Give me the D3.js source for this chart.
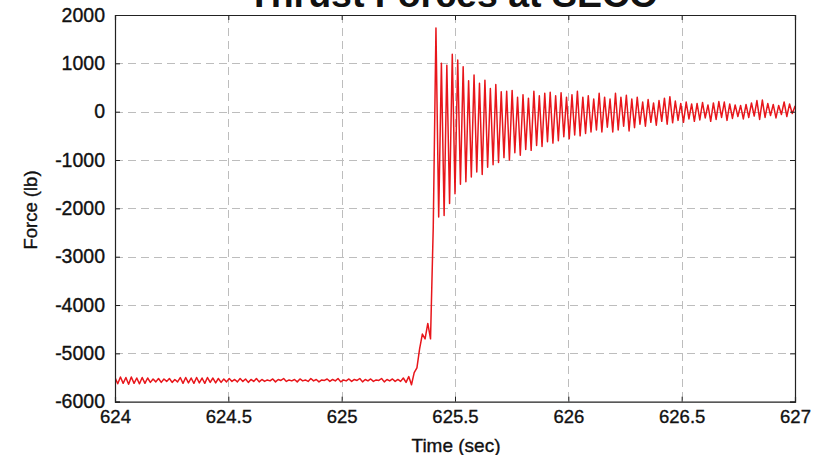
<!DOCTYPE html>
<html>
<head>
<meta charset="utf-8">
<script src="https://cdn.jsdelivr.net/npm/d3@7"></script>
<style>
  html, body { margin: 0; padding: 0; background: #fff; }
  svg { display: block; font-family: "Liberation Sans", Arial, sans-serif; }
</style>
</head>
<body>
<svg id="chart" width="827" height="455"></svg>
<script>
// Sampling grid of the load-cell record (seconds)
const sampleStart = 624.0;
const sampleStep = 0.012;

// Steady thrust before cutoff (lb)
const baselineForce = [
  -5500, -5630, -5490, -5620, -5500, -5640, -5490, -5620, -5510, -5630, -5500, -5620, -5510,
  -5600, -5530, -5590, -5520, -5600, -5530, -5580, -5520, -5600, -5540, -5590,
  -5500, -5620, -5500, -5610, -5510, -5620, -5500, -5610, -5510, -5620, -5500, -5600, -5510, -5610, -5520, -5600,
  -5530, -5590, -5520, -5580, -5540, -5590, -5520, -5580, -5530, -5600, -5540, -5580, -5520, -5590,
  -5540, -5580, -5550, -5570, -5530, -5590, -5540, -5560, -5520, -5580,
  -5550, -5570, -5540, -5590, -5530, -5570, -5550, -5580, -5520, -5570,
  -5540, -5590, -5550, -5560, -5530, -5580, -5540, -5570, -5520, -5590,
  -5550, -5570, -5530, -5580, -5540, -5560, -5520, -5590, -5540, -5570,
  -5530, -5580, -5550, -5560, -5520, -5590, -5540, -5570, -5530, -5580,
  -5540
];

// Thrust tail-off at cutoff (lb)
const riseForce = [-5580, -5510, -5600, -5480, -5650, -5400, -5300, -4900, -4600, -4700, -4380, -4700, -2400];

// Ring-down after cutoff: successive maxima and minima of each cycle (lb)
const peakForce = [
  1730, 1000, 960, 1190, 1070, 930, 640, 760, 590, 650,
  480, 560, 410, 420, 440, 300, 350, 280, 420, 330,
  380, 400, 330, 390, 300, 350, 420, 300, 330, 260,
  380, 300, 260, 380, 300, 340, 260, 300, 200, 250,
  180, 230, 280, 310, 220, 170, 200, 160, 170, 190,
  140, 180, 210, 200, 160, 140, 130, 150, 180, 230,
  240, 170, 150, 130, 200, 160, 110
];
const troughForce = [
  -2180, -2150, -1900, -1700, -1500, -1450, -1350, -1250, -1300, -1150,
  -1100, -1050, -950, -1000, -850, -900, -780, -800, -700, -720,
  -620, -650, -600, -520, -560, -480, -500, -450, -420, -380,
  -420, -320, -420, -380, -300, -400, -330, -260, -300, -220,
  -280, -200, -260, -230, -180, -220, -150, -200, -170, -130,
  -200, -160, -120, -180, -140, -100, -150, -120, -90, -160,
  -120, -80, -130, -60, -100, -40, -20
];

const xTicks = [624, 624.5, 625, 625.5, 626, 626.5, 627];
const yTicks = [-6000, -5000, -4000, -3000, -2000, -1000, 0, 1000, 2000];

// Assemble the sample sequence
const force = baselineForce.concat(riseForce);
peakForce.forEach((p, k) => { force.push(p, troughForce[k]); });
const samples = force.map((f, i) => ({ t: sampleStart + i * sampleStep, f }));

const svg = d3.select("#chart");
const m = { left: 115, right: 795, top: 15, bottom: 401.7 };

const x = d3.scaleLinear().domain([624, 627]).range([m.left, m.right]);
const y = d3.scaleLinear().domain([-6000, 2000]).range([m.bottom, m.top]);

// Dashed grid
const grid = svg.append("g").attr("stroke", "#bdbdbd").attr("stroke-width", 1).attr("stroke-dasharray", "8,5");
grid.selectAll("line.gx").data(xTicks.slice(1, -1)).join("line")
  .attr("x1", d => Math.round(x(d)) + 0.5).attr("x2", d => Math.round(x(d)) + 0.5)
  .attr("y1", m.top).attr("y2", m.bottom);
grid.selectAll("line.gy").data(yTicks.slice(1, -1)).join("line")
  .attr("y1", d => Math.round(y(d)) + 0.5).attr("y2", d => Math.round(y(d)) + 0.5)
  .attr("x1", m.left).attr("x2", m.right);

// Signal
svg.append("clipPath").attr("id", "plotClip").append("rect")
  .attr("x", m.left).attr("y", m.top).attr("width", m.right - m.left).attr("height", m.bottom - m.top);
svg.append("path")
  .datum(samples)
  .attr("clip-path", "url(#plotClip)")
  .attr("fill", "none")
  .attr("stroke", "#e8161b")
  .attr("stroke-width", 1.5)
  .attr("stroke-linejoin", "round")
  .attr("d", d3.line().x(d => x(d.t)).y(d => y(d.f)));

// Axes with inward ticks on all four sides
const tickLen = 5;
const axisBottom = svg.append("g").attr("transform", `translate(0,${m.bottom})`)
  .call(d3.axisBottom(x).tickValues(xTicks).tickSize(-tickLen).tickPadding(8).tickFormat(d => String(d)));
const axisTop = svg.append("g").attr("transform", `translate(0,${m.top})`)
  .call(d3.axisTop(x).tickValues(xTicks).tickSize(-tickLen).tickFormat(""));
const axisLeft = svg.append("g").attr("transform", `translate(${m.left},0)`)
  .call(d3.axisLeft(y).tickValues(yTicks).tickSize(-tickLen).tickPadding(10).tickFormat(d => String(d)));
const axisRight = svg.append("g").attr("transform", `translate(${m.right},0)`)
  .call(d3.axisRight(y).tickValues(yTicks).tickSize(-tickLen).tickFormat(""));

[[axisBottom, 18.5], [axisTop, 18.5], [axisLeft, 19.5], [axisRight, 18.5]].forEach(([g, size]) => {
  g.select(".domain").attr("stroke", "#222").attr("stroke-width", 1.2);
  g.selectAll(".tick line").attr("stroke", "#222");
  g.selectAll("text").attr("font-size", size).attr("fill", "#111")
    .attr("stroke", "#111").attr("stroke-width", 0.35)
    .attr("font-family", "'Liberation Sans', Arial, sans-serif");
});

// Titles
svg.append("text")
  .attr("x", 453).attr("y", 7)
  .attr("text-anchor", "middle")
  .attr("font-size", 37.5).attr("font-weight", "bold").attr("fill", "#111")
  .text("Thrust Forces at SECO");

svg.append("text")
  .attr("x", 456).attr("y", 452)
  .attr("text-anchor", "middle")
  .attr("font-size", 19).attr("fill", "#111")
  .attr("stroke", "#111").attr("stroke-width", 0.35)
  .text("Time (sec)");

svg.append("text")
  .attr("transform", "translate(37,210) rotate(-90)")
  .attr("text-anchor", "middle")
  .attr("font-size", 18.5).attr("fill", "#111")
  .attr("stroke", "#111").attr("stroke-width", 0.35)
  .text("Force (lb)");
</script>
</body>
</html>
